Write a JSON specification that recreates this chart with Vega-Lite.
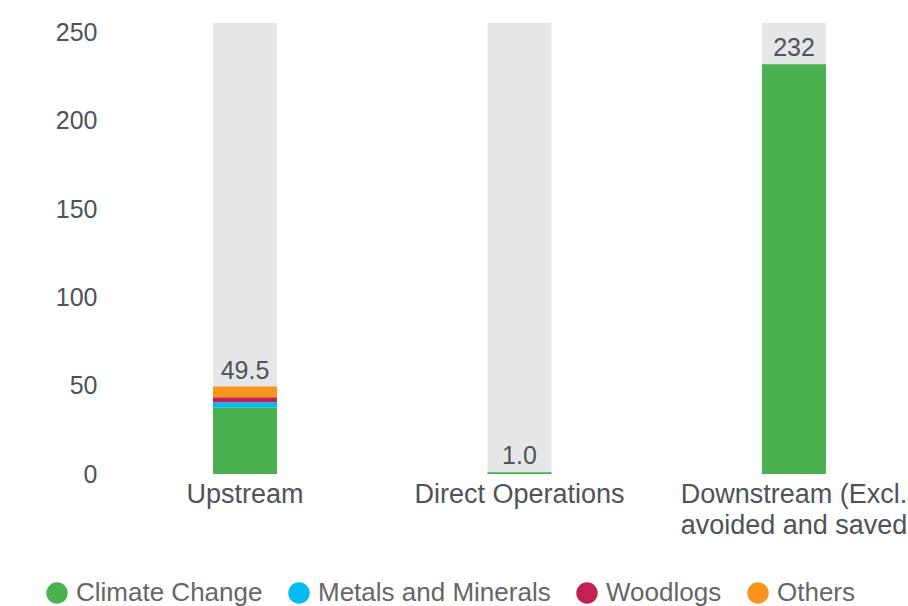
{
  "$schema": "https://vega.github.io/schema/vega-lite/v6.json",
  "width": 800,
  "height": 451,
  "autosize": {"type": "none"},
  "padding": {"left": 108, "top": 23, "right": 0, "bottom": 132},
  "config": {"view": {"stroke": null}, "font": "Liberation Sans"},
  "datasets": {
    "segments": [
      {"category": "Upstream", "impact": "Climate Change", "seg": 1, "value": 37.7},
      {"category": "Upstream", "impact": "Metals and Minerals", "seg": 2, "value": 2.9},
      {"category": "Upstream", "impact": "Woodlogs", "seg": 3, "value": 2.8},
      {"category": "Upstream", "impact": "Others", "seg": 4, "value": 6.1},
      {"category": "Direct Operations", "impact": "Climate Change", "seg": 1, "value": 1.0},
      {"category": "Downstream (Excl. avoided and saved", "impact": "Climate Change", "seg": 1, "value": 232}
    ],
    "totals": [
      {"category": "Upstream", "total": 49.5, "label": "49.5"},
      {"category": "Direct Operations", "total": 1.0, "label": "1.0"},
      {"category": "Downstream (Excl. avoided and saved", "total": 232, "label": "232"}
    ]
  },
  "layer": [
    {
      "data": {"name": "totals"},
      "mark": {"type": "bar", "color": "#e6e7e8"},
      "encoding": {
        "x": {
          "field": "category", "type": "nominal",
          "sort": ["Upstream", "Direct Operations", "Downstream (Excl. avoided and saved"],
          "scale": {"paddingInner": 0.7668, "paddingOuter": 0.3406, "align": 0.5615},
          "axis": {
            "title": null, "domain": false, "ticks": false, "labelAngle": 0,
            "labelFontSize": 27, "labelColor": "#4d5359", "labelPadding": 7,
            "labelLineHeight": 31, "labelBaseline": "top", "labelLimit": 600,
            "labelOverlap": false, "labelBound": false,
            "labelExpr": "datum.value == 'Downstream (Excl. avoided and saved' ? ['Downstream (Excl.', 'avoided and saved'] : datum.value"
          }
        },
        "y": {
          "datum": 255.4, "type": "quantitative",
          "scale": {"domain": [0, 255.4], "nice": false, "zero": true},
          "axis": {
            "title": null, "domain": false, "ticks": false, "grid": false,
            "values": [0, 50, 100, 150, 200, 250],
            "labelFontSize": 25, "labelColor": "#4d5359", "labelPadding": 11
          }
        }
      }
    },
    {
      "data": {"name": "segments"},
      "mark": {"type": "bar"},
      "encoding": {
        "x": {
          "field": "category", "type": "nominal",
          "sort": ["Upstream", "Direct Operations", "Downstream (Excl. avoided and saved"]
        },
        "y": {"field": "value", "type": "quantitative", "stack": "zero"},
        "order": {"field": "seg", "type": "quantitative"},
        "color": {
          "field": "impact", "type": "nominal",
          "scale": {
            "domain": ["Climate Change", "Metals and Minerals", "Woodlogs", "Others"],
            "range": ["#4bb04f", "#00bcf0", "#c3214f", "#f7941d"]
          },
          "legend": {
            "title": null, "orient": "none", "direction": "horizontal",
            "legendX": -64, "legendY": 557,
            "symbolType": "circle", "symbolSize": 460, "symbolStrokeWidth": 0,
            "symbolOpacity": 1, "labelFontSize": 26, "labelColor": "#666666",
            "labelOffset": 6, "columnPadding": 23, "labelLimit": 400
          }
        }
      }
    },
    {
      "data": {"name": "totals"},
      "mark": {"type": "text", "baseline": "alphabetic", "dy": -8, "fontSize": 25, "color": "#4d5359"},
      "encoding": {
        "x": {
          "field": "category", "type": "nominal",
          "sort": ["Upstream", "Direct Operations", "Downstream (Excl. avoided and saved"]
        },
        "y": {"field": "total", "type": "quantitative"},
        "text": {"field": "label", "type": "nominal"}
      }
    }
  ]
}
